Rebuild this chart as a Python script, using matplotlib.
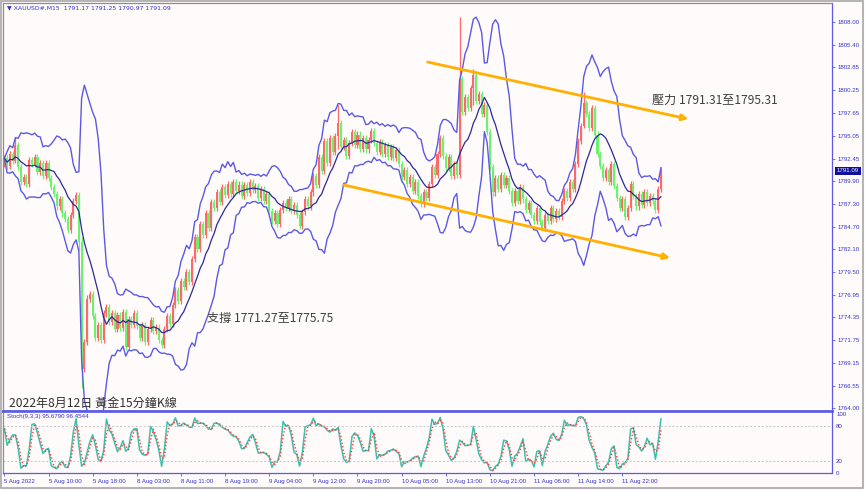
import matplotlib.pyplot as plt
import numpy as np
import pandas as pd
from matplotlib.patches import Rectangle

# XAUUSD half-hour closes (5 Aug 02:00 .. 12 Aug 01:00)
closes = [
    1792.5, 1791.6, 1793.0, 1792.2, 1794.0, 1791.5, 1789.8, 1790.4, 1789.6, 1792.3,
    1791.8, 1792.6, 1790.9, 1791.9, 1790.5, 1792.0, 1790.2, 1789.2, 1788.4, 1787.0,
    1787.8, 1786.2, 1785.6, 1784.3, 1786.0, 1787.6, 1788.3, 1783.0, 1768.5, 1771.5,
    1776.5, 1777.0, 1774.5, 1772.0, 1773.5, 1771.8, 1774.8, 1775.5, 1773.8, 1774.9,
    1773.0, 1774.6, 1773.2, 1775.0, 1771.0, 1774.2, 1773.5, 1774.8, 1773.4, 1772.0,
    1773.5, 1771.6, 1773.0, 1774.0, 1772.8, 1773.2, 1771.8, 1771.2, 1773.0, 1774.5,
    1773.6, 1775.8, 1777.5, 1776.2, 1778.5, 1777.8, 1779.5, 1778.4, 1781.0, 1783.5,
    1782.2, 1785.0, 1783.8, 1786.2, 1784.5, 1787.5, 1786.8, 1788.6, 1787.5, 1789.2,
    1788.3, 1789.6, 1788.4, 1789.8, 1788.8, 1789.5, 1788.2, 1789.4, 1788.5, 1789.8,
    1788.9, 1789.3, 1788.0, 1789.0, 1787.6, 1788.4, 1786.5, 1785.4, 1786.2, 1785.0,
    1786.6, 1787.4, 1786.8, 1787.8, 1786.5, 1787.2, 1786.0, 1784.8, 1786.4, 1787.8,
    1787.0, 1788.6, 1790.5, 1789.4, 1792.6, 1791.0, 1794.5, 1792.0, 1794.8, 1793.2,
    1795.0, 1796.5, 1793.8, 1794.6, 1792.8, 1794.2, 1795.5, 1794.0, 1795.2, 1793.6,
    1794.8, 1793.5, 1794.6, 1795.6, 1794.2, 1793.2, 1794.4, 1793.0, 1794.0, 1792.6,
    1793.8, 1792.5, 1793.4, 1791.8, 1790.4, 1791.2, 1789.6, 1790.4, 1788.8, 1789.8,
    1788.2, 1787.3, 1788.6, 1788.0, 1789.6, 1791.5, 1790.6, 1793.0, 1794.8, 1792.8,
    1791.4, 1792.6, 1790.5, 1791.8, 1790.6, 1801.5, 1797.8, 1799.5, 1798.2, 1800.5,
    1802.0, 1799.0, 1799.8, 1797.5, 1798.6, 1795.5, 1791.5, 1788.6, 1790.2, 1789.0,
    1790.6, 1789.4, 1790.2, 1788.8, 1787.4, 1788.8, 1787.6, 1789.2, 1787.8, 1786.6,
    1787.4, 1786.0, 1785.4, 1786.8, 1785.2, 1784.6, 1786.0, 1785.3, 1786.8, 1785.6,
    1786.5, 1785.8, 1787.6, 1788.8, 1788.0, 1789.8, 1789.0, 1791.8, 1794.5, 1796.2,
    1798.8, 1797.5, 1796.0, 1798.2, 1795.2, 1793.0, 1791.6, 1790.2, 1791.2, 1789.8,
    1791.8, 1789.3, 1788.0, 1786.8, 1787.8, 1785.8, 1786.8, 1789.6, 1788.2, 1787.0,
    1788.4, 1787.2, 1788.6, 1787.4, 1788.2, 1787.6, 1786.6, 1789.0, 1791.09,
]
first_open = 1791.8

# long wicks visible in the picture
spike_idx = [4, 27, 28, 121, 165, 170, 210]
spike_high = [1794.9, 1788.6, 1783.5, 1798.6, 1808.6, 1802.7, 1800.0]
spike_low = [1792.0, 1782.0, 1766.3, 1793.5, 1790.3, 1798.6, 1796.0]

time_labels = ['5 Aug 2022', '5 Aug 10:00', '5 Aug 18:00', '8 Aug 03:00', '8 Aug 11:00',
               '8 Aug 19:00', '9 Aug 04:00', '9 Aug 12:00', '9 Aug 20:00', '10 Aug 05:00',
               '10 Aug 13:00', '10 Aug 21:00', '11 Aug 06:00', '11 Aug 14:00', '11 Aug 22:00']
price_ticks = [1808.00, 1805.40, 1802.85, 1800.25, 1797.65, 1795.05, 1792.45, 1789.90,
               1787.30, 1784.70, 1782.10, 1779.50, 1776.95, 1774.35, 1771.75, 1769.15,
               1766.55, 1764.00]

W, H = 865, 490
BG = '#fffbfa'
BLUE = '#5a5ae6'
LBL = '#3434c8'
UP, DN = '#ff6868', '#6cf26c'
WICK = 0.35

closes = np.array(closes)
opens = np.concatenate([[first_open], closes[:-1]])
highs = np.maximum(opens, closes) + WICK
lows = np.minimum(opens, closes) - WICK
for i, hi, lo in zip(spike_idx, spike_high, spike_low):
    highs[i], lows[i] = hi, lo
x = np.arange(len(closes))

# bollinger bands and stochastic from the prices
s = pd.Series(closes)
mid = s.rolling(10, min_periods=1).mean()
sd = s.rolling(10, min_periods=1).std(ddof=0)
upper, lower = mid + 2.7 * sd, mid - 2.7 * sd
hh = pd.Series(highs).rolling(4, min_periods=1).max()
ll = pd.Series(lows).rolling(4, min_periods=1).min()
k = 100 * (s - ll).rolling(2, min_periods=1).sum() / (hh - ll).rolling(2, min_periods=1).sum()
d = k.rolling(2, min_periods=1).mean()

plt.rcParams['font.family'] = ['Liberation Sans', 'DejaVu Sans']
fig = plt.figure(figsize=(W / 100, H / 100), dpi=100, facecolor=BG)
ax = fig.add_axes([3 / W, (H - 411) / H, 829 / W, 408 / H], facecolor=BG)
ax2 = fig.add_axes([3 / W, (H - 473) / H, 829 / W, 61 / H], facecolor=BG, sharex=ax)

# candles
col = np.where(closes >= opens, UP, DN)
ax.vlines(x, lows, highs, colors=col, lw=0.9)
ax.bar(x, closes - opens, bottom=opens, width=0.75, color=col, linewidth=0)
ax.plot(x, upper, color=BLUE, lw=1)
ax.plot(x, lower, color=BLUE, lw=1)
ax.plot(x, mid, color='#2a2a9a', lw=0.9)

# trend channel arrows
arrow = dict(arrowstyle='-|>', color='#ffb000', lw=2, mutation_scale=9, shrinkA=0, shrinkB=0)
ax.annotate('', xy=(247.9, 1796.97), xytext=(153.4, 1803.47), arrowprops=arrow)
ax.annotate('', xy=(241.3, 1781.13), xytext=(123.0, 1789.45), arrowprops=arrow)

ax.set_xlim(-0.5, 300)
ax.set_ylim(1763.68, 1810.2)
ax.yaxis.tick_right()
ax.set_yticks(price_ticks, [f'{v:.2f}' for v in price_ticks])
ax.tick_params(axis='y', labelsize=4.4, labelcolor=LBL, color=BLUE, length=2, width=0.6, pad=2)
ax.tick_params(axis='x', bottom=False, labelbottom=False)

# current price marker
ax.text(1.006, (1791.09 - 1763.68) / (1810.2 - 1763.68), '1791.09', transform=ax.transAxes,
        fontsize=4.4, color='white', va='center', ha='left',
        bbox=dict(boxstyle='square,pad=0.25', fc='#10109c', ec='none'))

# stochastic panel
ax2.plot(x, k, color='#3dbfae', lw=1.1)
ax2.plot(x, d, color='#ff3c3c', lw=1, ls=(0, (1, 1.5)))
for lvl in (80, 20):
    ax2.axhline(lvl, color='#c4c4c4', lw=0.7, ls=(0, (2, 2)))
ax2.set_ylim(-0.4, 103.3)
ax2.yaxis.tick_right()
ax2.set_yticks([0, 20, 80, 100])
ax2.tick_params(axis='y', labelsize=4.4, labelcolor=LBL, color=BLUE, length=0, pad=3)
ax2.set_xticks(np.arange(len(time_labels)) * 16, time_labels)
ax2.tick_params(axis='x', labelsize=4.4, labelcolor=LBL, color=BLUE, length=2.5, width=0.6, pad=2)
for t in ax2.get_xticklabels():
    t.set_horizontalalignment('left')
ax2.text(0.005, 0.93, 'Stoch(9,3,3) 95.6790 96.4544', transform=ax2.transAxes,
         fontsize=4.4, color=LBL, va='center')

for a in (ax, ax2):
    a.spines['left'].set_color('#8c8c8c')
    a.spines['top'].set_color('#8c8c8c')
    a.spines['right'].set_color(BLUE)
    a.spines['bottom'].set_color(BLUE)
    for sp in a.spines.values():
        sp.set_linewidth(0.9)
ax.spines['bottom'].set_linewidth(2)
ax2.spines['top'].set_color(BLUE)
ax2.spines['top'].set_linewidth(1.2)

# texts
fig.text(7 / W, 1 - 8 / H, '\u25bc XAUUSD#,M15  1791.17 1791.25 1790.97 1791.09',
         fontsize=4.4, color=LBL, va='center', family=['DejaVu Sans'])
cjk = ['Noto Sans CJK TC', 'DejaVu Sans']
fig.text(652 / W, 1 - 100 / H, '壓力 1791.31至1795.31', fontsize=8.7, color='#404040',
         va='center', family=cjk)
fig.text(207 / W, 1 - 318 / H, '支撐 1771.27至1775.75', fontsize=8.7, color='#404040',
         va='center', family=cjk)
fig.text(9 / W, 1 - 403 / H, '2022年8月12日 黃金15分鐘K線', fontsize=8.7, color='#303030',
         va='center', family=cjk)

fig.patches.append(Rectangle((1 / W, 2 / H), 862 / W, 487 / H, transform=fig.transFigure,
                             fill=False, ec='#a8a8a8', lw=1.2))

fig.savefig('out.png', dpi=100, facecolor=BG)
